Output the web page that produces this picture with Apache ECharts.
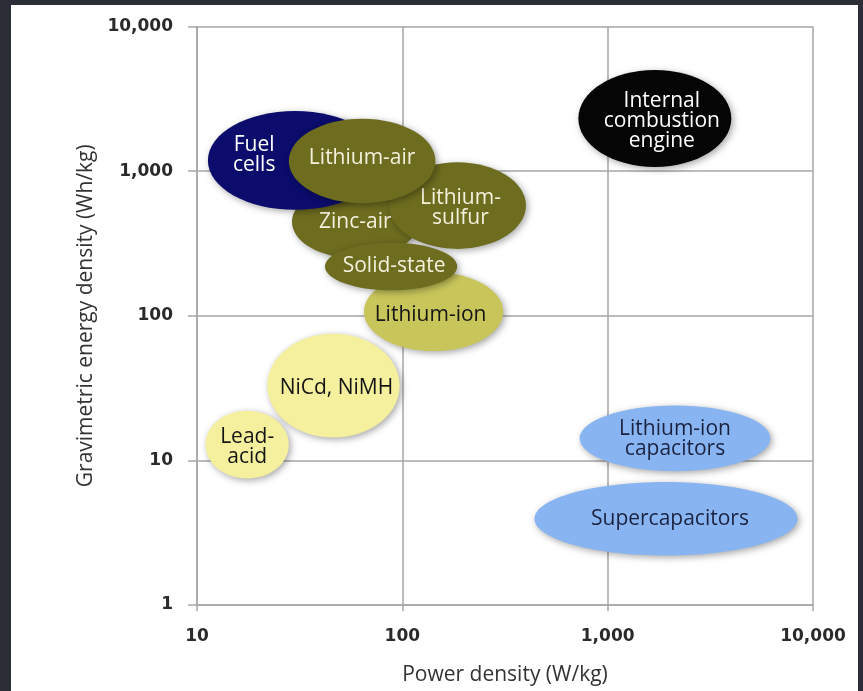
<!DOCTYPE html>
<html>
<head>
<meta charset="utf-8">
<script src="https://cdn.jsdelivr.net/npm/echarts@6/dist/echarts.min.js"></script>
<style>
  html, body { margin: 0; padding: 0; width: 863px; height: 691px; background: #2b2d37; overflow: hidden; }
  #chart { position: absolute; left: 11px; top: 5px; width: 847px; height: 686px; background: #ffffff; }
</style>
</head>
<body>
<div id="chart"></div>
<script>
// Energy storage technologies: power density vs gravimetric energy density (log-log)
const techNames = [
  'Zinc-air', 'Lithium-\nsulfur', 'Fuel\ncells', 'Lithium-air', 'Lithium-ion', 'Solid-state',
  'Internal\ncombustion\nengine', 'NiCd, NiMH', 'Lead-\nacid',
  'Lithium-ion\ncapacitors', 'Supercapacitors'
];
// power density range (W/kg)
const powerMin = [29, 86, 11.3, 28, 65, 42, 720, 22, 11, 730, 440];
const powerMax = [120, 400, 80, 145, 310, 185, 4000, 97, 28, 6200, 8400];
// gravimetric energy density range (Wh/kg)
const energyMin = [250, 290, 540, 600, 57, 150, 1070, 14.4, 7.5, 8.4, 2.2];
const energyMax = [800, 1150, 2600, 2300, 200, 320, 5000, 75, 22, 24, 7.1];

const xTicks = [10, 100, 1000, 10000];
const yTicks = [1, 10, 100, 1000, 10000];

// fill / text colours per technology group
const look = {
  'Zinc-air':                      { fill: '#6d6c1f', text: '#f3f1dc' },
  'Lithium-\nsulfur':              { fill: '#6d6c1f', text: '#f3f1dc', dx: 3, dy: 2 },
  'Fuel\ncells':                   { fill: '#0b0c6c', text: '#ffffff', dx: -41, dy: -5 },
  'Lithium-air':                   { fill: '#6d6c1f', text: '#f3f1dc', dy: -3 },
  'Lithium-ion':                   { fill: '#c8c65b', text: '#151515', dx: -3, dy: 3 },
  'Solid-state':                   { fill: '#6d6c1f', text: '#f3f1dc', dx: 3 },
  'Internal\ncombustion\nengine':  { fill: '#050505', text: '#ffffff', dx: 7, dy: 3 },
  'NiCd, NiMH':                    { fill: '#f4f09e', text: '#151515', dx: 3, dy: 2 },
  'Lead-\nacid':                   { fill: '#f4f09e', text: '#151515', dy: 2 },
  'Lithium-ion\ncapacitors':       { fill: '#88b5f1', text: '#1b2240', dy: 1 },
  'Supercapacitors':               { fill: '#88b5f1', text: '#1b2240', dx: 4 }
};

const seriesData = techNames.map((n, i) => [powerMin[i], powerMax[i], energyMin[i], energyMax[i], n]);

const fmt = v => Number(v).toLocaleString('en-US');

const chart = echarts.init(document.getElementById('chart'), null, { renderer: 'canvas' });
chart.setOption({
  animation: false,
  backgroundColor: '#ffffff',
  grid: { left: 186, right: 45, top: 21.5, bottom: 85, containLabel: false },
  xAxis: {
    type: 'log', logBase: 10, min: xTicks[0], max: xTicks[xTicks.length - 1],
    name: 'Power density (W/kg)', nameLocation: 'middle', nameGap: 60,
    nameTextStyle: { fontFamily: 'Open Sans', fontSize: 21, color: '#333' },
    axisLine: { lineStyle: { color: '#a6a6a6', width: 1.5 } },
    axisTick: { show: true, length: 6, lineStyle: { color: '#a6a6a6', width: 1.5 } },
    axisLabel: { formatter: fmt, margin: 23, fontFamily: 'DejaVu Sans', fontWeight: 'bold', fontSize: 17, color: '#2a2a2a' },
    splitLine: { show: true, lineStyle: { color: '#a6a6a6', width: 1.5 } },
    minorTick: { show: false }
  },
  yAxis: {
    type: 'log', logBase: 10, min: yTicks[0], max: yTicks[yTicks.length - 1],
    name: 'Gravimetric energy density (Wh/kg)', nameLocation: 'middle', nameGap: 98, nameRotate: 90,
    nameTextStyle: { fontFamily: 'Open Sans', fontSize: 21, color: '#333' },
    axisLine: { show: true, lineStyle: { color: '#a6a6a6', width: 1.5 } },
    axisTick: { show: true, length: 9, lineStyle: { color: '#a6a6a6', width: 1.5 } },
    axisLabel: { formatter: fmt, margin: 24, fontFamily: 'DejaVu Sans', fontWeight: 'bold', fontSize: 17, color: '#2a2a2a' },
    splitLine: { show: true, lineStyle: { color: '#a6a6a6', width: 1.5 } }
  },
  series: [{
    type: 'custom',
    coordinateSystem: 'cartesian2d',
    data: seriesData,
    encode: { x: [0, 1], y: [2, 3] },
    clip: false,
    renderItem: function (params, api) {
      const a = api.coord([api.value(0), api.value(2)]);
      const b = api.coord([api.value(1), api.value(3)]);
      const name = seriesData[params.dataIndex][4];
      const st = look[name];
      const cx = (a[0] + b[0]) / 2, cy = (a[1] + b[1]) / 2;
      const rx = Math.abs(b[0] - a[0]) / 2, ry = Math.abs(b[1] - a[1]) / 2;
      return {
        type: 'group',
        children: [{
          type: 'ellipse',
          shape: { cx: cx, cy: cy, rx: rx, ry: ry },
          style: {
            fill: st.fill,
            shadowBlur: 7, shadowOffsetX: 2, shadowOffsetY: 2,
            shadowColor: 'rgba(0,0,0,0.35)'
          }
        }, {
          type: 'text',
          x: cx + (st.dx || 0), y: cy + (st.dy || 0),
          style: {
            text: name, fill: st.text,
            fontFamily: 'Open Sans', fontSize: 21, lineHeight: 20,
            align: 'center', verticalAlign: 'middle'
          }
        }]
      };
    }
  }]
});
</script>
</body>
</html>
